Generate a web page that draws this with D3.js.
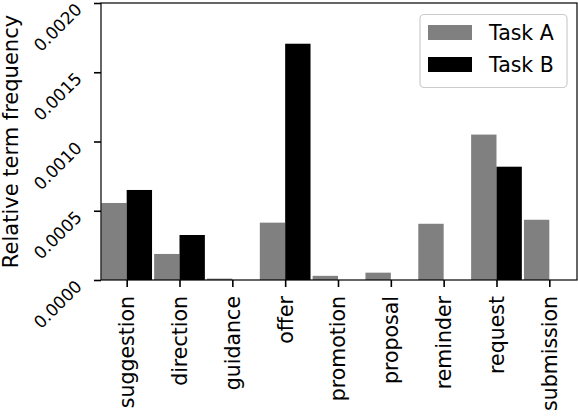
<!DOCTYPE html>
<html>
<head>
<meta charset="utf-8">
<script src="https://cdn.jsdelivr.net/npm/d3@7"></script>
<style>
  body { margin: 0; background: #fff; }
  svg { display: block; font-family: "DejaVu Sans", sans-serif; }
</style>
</head>
<body>
<svg width="578" height="418"></svg>
<script>
// chart data
const terms = ["suggestion", "direction", "guidance", "offer", "promotion",
               "proposal", "reminder", "request", "submission"];
const taskA = [0.000556, 0.000188, 0.00001, 0.000414, 0.00003, 0.000053, 0.000406, 0.00105, 0.000435];
const taskB = [0.00065, 0.000325, 0, 0.001706, 0, 0, 0, 0.000818, 0];
const yTicks = [0, 0.0005, 0.001, 0.0015, 0.002];
const seriesNames = ["Task A", "Task B"];
const seriesColors = ["#808080", "#000000"];

let svg = d3.select("svg");
const fontName = "DejaVu Sans";

// plot area
let plotL = 101, plotR = 577, plotT = 3, plotB = 280;
let barW = 0.48;

let x = d3.scaleLinear().domain([-0.486, 8.524]).range([plotL, plotR]);
let y = d3.scaleLinear().domain([0, 0.002]).range([plotB, plotT]);

let series = [taskA, taskB];

// bars
series.forEach((vals, s) => {
    svg.append("g")
        .selectAll("rect")
        .data(vals)
        .enter()
        .append("rect")
        .attr("x", (d, i) => x(i + (s === 0 ? -barW : 0)))
        .attr("width", x(barW) - x(0))
        .attr("y", d => y(d))
        .attr("height", d => y(0) - y(d))
        .attr("fill", seriesColors[s]);
});

// frame
svg.append("rect")
    .attr("x", plotL).attr("y", plotT)
    .attr("width", plotR - plotL).attr("height", plotB - plotT)
    .attr("fill", "none").attr("stroke", "#000").attr("stroke-width", 1.2);

// x axis
let xAxis = svg.append("g")
    .attr("transform", "translate(0," + plotB + ")")
    .call(d3.axisBottom(x).tickValues(d3.range(terms.length)).tickSize(7).tickSizeOuter(0)
        .tickFormat(i => terms[i]))
    .attr("font-family", fontName);
xAxis.select(".domain").remove();
xAxis.selectAll(".tick line").attr("stroke-width", 1.6);
xAxis.selectAll(".tick text")
    .attr("font-size", 20.5)
    .attr("fill", "#000")
    .attr("text-anchor", "end")
    .attr("dy", null)
    .attr("y", null)
    .attr("transform", "translate(7,16) rotate(-90)");

// y axis
let yAxis = svg.append("g")
    .attr("transform", "translate(" + plotL + ",0)")
    .call(d3.axisLeft(y).tickValues(yTicks).tickSize(7).tickSizeOuter(0)
        .tickFormat(d3.format(".4f")))
    .attr("font-family", fontName);
yAxis.select(".domain").remove();
yAxis.selectAll(".tick line").attr("stroke-width", 1.6);
yAxis.selectAll(".tick text")
    .attr("font-size", 17)
    .attr("fill", "#000")
    .attr("text-anchor", "end")
    .attr("dy", null)
    .attr("x", null)
    .attr("transform", "translate(-18,7) rotate(-45)");

// y label
svg.append("text")
    .attr("transform", "translate(18," + ((plotT + plotB) / 2) + ") rotate(-90)")
    .attr("text-anchor", "middle")
    .attr("font-size", 21)
    .text("Relative term frequency");

// legend
let lg = svg.append("g");
lg.append("rect")
    .attr("x", 420).attr("y", 14.5)
    .attr("width", 147).attr("height", 73)
    .attr("rx", 4)
    .attr("fill", "#fff").attr("fill-opacity", 0.8)
    .attr("stroke", "#cccccc").attr("stroke-width", 1.2);
seriesNames.forEach((name, s) => {
    lg.append("rect")
        .attr("x", 428).attr("y", 25 + s * 32)
        .attr("width", 44).attr("height", 15)
        .attr("fill", seriesColors[s]);
    lg.append("text")
        .attr("x", 489).attr("y", 39.5 + s * 32)
        .attr("font-size", 20.5)
        .text(name);
});
</script>
</body>
</html>
